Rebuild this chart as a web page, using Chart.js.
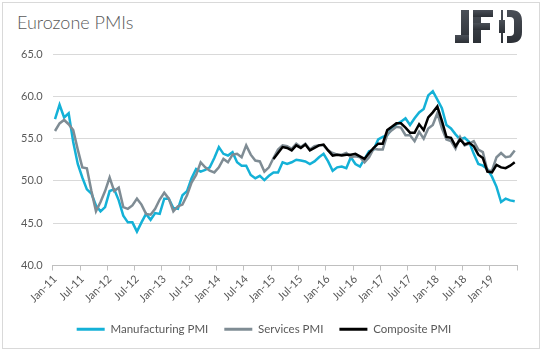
<!DOCTYPE html>
<html>
<head>
<meta charset="utf-8">
<script src="https://cdn.jsdelivr.net/npm/chart.js@4.4.0/dist/chart.umd.min.js"></script>
<style>
  html, body { margin: 0; padding: 0; background: #fff; }
  #wrap { position: relative; width: 543px; height: 351px; overflow: hidden; }
  #frame { position: absolute; left: 2px; top: 2px; width: 536px; height: 345px; border: 1px solid #d9d9d9; }
  #title { position: absolute; left: 17px; top: 11px; font-family: Lato, "Open Sans", sans-serif; font-weight: 300; font-size: 18px; color: #595959; }
  #logo { position: absolute; left: 0; top: 0; }
  canvas { position: absolute; left: 0; top: 0; }
</style>
</head>
<body>
<div id="wrap">
  <div id="frame"></div>
  <div id="title">Eurozone PMIs</div>
  <svg id="logo" width="543" height="60">
    <defs>
      <linearGradient id="lg" x1="0" y1="0" x2="0" y2="1">
        <stop offset="0" stop-color="#4a4f57"/>
        <stop offset="1" stop-color="#2c3036"/>
      </linearGradient>
    </defs>
    <g fill="url(#lg)">
      <!-- J -->
      <rect x="461" y="10" width="8" height="33"/>
      <rect x="455" y="35" width="14" height="8"/>
      <!-- F -->
      <rect x="473" y="10" width="8" height="33"/>
      <rect x="473" y="10" width="20" height="7"/>
      <rect x="473" y="23" width="17" height="7"/>
      <!-- D with candle -->
      <rect x="501" y="10" width="2" height="33"/>
      <rect x="499" y="20" width="6" height="13"/>
      <path d="M507 10 H511 Q522 10 522 21 V32 Q522 43 511 43 H507 V36 H510 Q514 36 514 32 V21 Q514 17 510 17 H507 Z"/>
    </g>
  </svg>
  <canvas id="pmi-chart" width="543" height="351"></canvas>
</div>
<script>
const monthNames = ['Jan', 'Feb', 'Mar', 'Apr', 'May', 'Jun', 'Jul', 'Aug', 'Sep', 'Oct', 'Nov', 'Dec'];
const years = ['11', '12', '13', '14', '15', '16', '17', '18', '19'];
const labels = years.flatMap(y => monthNames.map(m => m + '-' + y)).slice(0, 102);

const manufacturing = [
  57.3, 59.0, 57.5, 58.0, 54.6, 52.0, 50.4, 49.0, 48.5, 47.1, 46.4, 46.9,
  48.8, 49.0, 47.7, 45.9, 45.1, 45.1, 44.0, 45.1, 46.1, 45.4, 46.2, 46.1,
  47.9, 47.9, 46.8, 46.7, 48.3, 48.8, 50.3, 51.4, 51.1, 51.3, 51.6, 52.7,
  54.0, 53.2, 53.0, 53.4, 52.2, 51.8, 51.8, 50.7, 50.3, 50.6, 50.1, 50.6,
  51.0, 51.0, 52.2, 52.0, 52.2, 52.5, 52.4, 52.3, 52.0, 52.3, 52.8, 53.2,
  52.3, 51.2, 51.6, 51.7, 51.5, 52.8, 52.0, 51.7, 52.6, 53.5, 53.7, 54.9,
  55.2, 55.4, 56.2, 56.7, 57.0, 57.4, 56.6, 57.4, 58.1, 58.5, 60.1, 60.6,
  59.6, 58.6, 56.6, 56.2, 55.5, 54.9, 55.1, 54.6, 53.2, 52.0, 51.8, 51.4,
  50.5, 49.3, 47.5, 47.9, 47.7, 47.6
];

const services = [
  55.9, 56.8, 57.2, 56.7, 56.0, 53.7, 51.6, 51.5, 48.8, 46.4, 47.5, 48.8,
  50.4, 48.8, 49.2, 46.9, 46.7, 47.1, 47.9, 47.2, 46.1, 46.0, 46.7, 47.8,
  48.6, 47.9, 46.4, 47.0, 47.2, 48.3, 49.8, 50.7, 52.2, 51.6, 51.2, 51.0,
  51.6, 52.6, 52.2, 53.1, 53.2, 52.8, 54.2, 53.1, 52.4, 52.3, 51.1, 51.6,
  52.7, 53.7, 54.2, 54.1, 53.8, 54.4, 54.0, 54.4, 53.7, 54.1, 54.2, 54.2,
  53.6, 53.3, 53.1, 53.1, 53.3, 52.8, 52.9, 52.8, 52.2, 52.8, 53.8, 53.7,
  53.7, 55.5, 56.0, 56.4, 56.3, 55.4, 55.4, 54.7, 55.8, 55.0, 56.2, 56.6,
  58.0, 56.2, 54.9, 54.7, 53.8, 55.2, 54.2, 54.4, 54.7, 53.7, 53.4, 51.2,
  51.2, 52.8, 53.3, 52.8, 52.9, 53.6
];

// composite series only starts in Jan-15
const compositeStart = 48;
const composite = [
  52.6, 53.3, 54.0, 53.9, 53.6, 54.2, 53.9, 54.3, 53.6, 53.9, 54.2, 54.3,
  53.6, 53.0, 53.1, 53.0, 53.1, 53.1, 53.2, 52.9, 52.6, 53.3, 53.9, 54.4,
  54.4, 56.0, 56.4, 56.8, 56.8, 56.3, 55.7, 55.7, 56.7, 56.0, 57.5, 58.1,
  58.8, 57.1, 55.2, 55.1, 54.1, 54.9, 54.3, 54.5, 54.1, 53.1, 52.7, 51.1,
  51.0, 51.9, 51.6, 51.5, 51.8, 52.2
];

const yTicks = [40, 45, 50, 55, 60, 65];

const cyan = '#14b1d7';
const grey = '#7f8c94';
const textColor = '#595959';
const font = { family: 'Lato, "Open Sans", sans-serif', size: 11 };

const ctx = document.getElementById('pmi-chart').getContext('2d');

new Chart(ctx, {
    type: 'line',
    data: {
        labels: labels,
        datasets: [
            {
                label: 'Manufacturing PMI',
                data: manufacturing,
                borderColor: cyan,
                backgroundColor: cyan,
                order: 3
            },
            {
                label: 'Services PMI',
                data: services,
                borderColor: grey,
                backgroundColor: grey,
                order: 2
            },
            {
                label: 'Composite PMI',
                data: new Array(compositeStart).fill(null).concat(composite),
                borderColor: '#000000',
                backgroundColor: '#000000',
                order: 1
            }
        ]
    },
    options: {
        responsive: false,
        animation: false,
        devicePixelRatio: 1,
        elements: {
            line: { borderWidth: 2.5, tension: 0 },
            point: { radius: 0 }
        },
        layout: {
            padding: { top: 54, left: 11, right: 26, bottom: 6 }
        },
        scales: {
            x: {
                offset: true,
                grid: {
                    offset: true,
                    drawOnChartArea: false,
                    tickLength: 5,
                    color: function(c) {
                        return (c.type !== 'tick' || c.index % 6 === 0) ? '#bfbfbf' : 'rgba(0,0,0,0)';
                    }
                },
                border: { color: '#bfbfbf' },
                ticks: {
                    autoSkip: false,
                    maxRotation: 45,
                    minRotation: 45,
                    padding: 2,
                    color: textColor,
                    font: font,
                    callback: function(value, index) {
                        return index % 6 === 0 ? labels[index] : '';
                    }
                },
                afterFit: function(scale) {
                    scale.height = 42;
                }
            },
            y: {
                min: 40,
                max: 65,
                afterBuildTicks: function(scale) {
                    scale.ticks = yTicks.map(v => ({ value: v }));
                },
                grid: { color: '#d9d9d9', drawTicks: false },
                border: { display: false },
                ticks: {
                    padding: 10,
                    color: textColor,
                    font: font,
                    callback: function(value) {
                        return value.toFixed(1);
                    }
                }
            }
        },
        plugins: {
            legend: {
                position: 'bottom',
                labels: {
                    boxWidth: 28,
                    boxHeight: 3,
                    padding: 16,
                    color: textColor,
                    font: { family: 'Lato, "Open Sans", sans-serif', size: 11.5 },
                    sort: (a, b) => a.datasetIndex - b.datasetIndex,
                    generateLabels: function(chart) {
                        return Chart.defaults.plugins.legend.labels.generateLabels(chart).map(function(item) {
                            item.lineWidth = 0;
                            item.fillStyle = item.strokeStyle;
                            return item;
                        });
                    }
                }
            },
            title: { display: false },
            tooltip: { enabled: false }
        }
    }
});
</script>
</body>
</html>
